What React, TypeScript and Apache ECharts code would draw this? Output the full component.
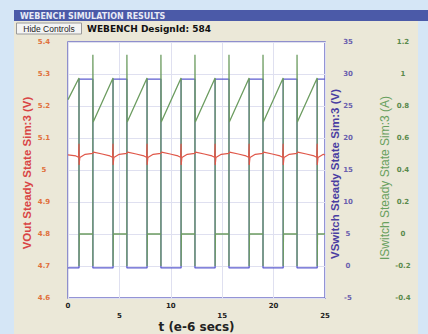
import React, { useEffect, useRef } from "react";
import * as echarts from "echarts";

// Values
const riseTimes = [1.07, 4.38, 7.69, 11.0, 14.31, 17.62, 20.93, 24.24]; // VSwitch rising edges (µs)
const fallTimes = [2.42, 5.73, 9.04, 12.35, 15.66, 18.97, 22.28]; // VSwitch falling edges (µs)
const tEnd = 25;

const vswHigh = 29.2;
const vswLow = -0.3;

const iswStart = 0.84;
const iswPeak = 0.975;
const iswValley = 0.7;
const iswSpike = 1.12;
const iswDip = -0.2;
const iswOff = 0;

const voutStart = 5.047;
const voutLate = 5.044;
const voutPreSpike = 5.04;
const voutSpikeHi = 5.082;
const voutSpikeLo = 5.016;
const voutAfter = 5.039;
const voutRise = 5.049;
const voutAtFall = 5.052;
const voutBump = 5.056;
const voutSettle = 5.05;
const voutEnd = 5.046;

const xTicks = [0, 5, 10, 15, 20, 25];

function buildVsw(): number[][] {
  const d: number[][] = [[0, vswLow]];
  let last = vswLow;
  riseTimes.forEach((r, i) => {
    d.push([r, vswLow], [r, vswHigh]);
    last = vswHigh;
    const f = fallTimes[i];
    if (f !== undefined) {
      d.push([f, vswHigh], [f, vswLow]);
      last = vswLow;
    }
  });
  d.push([tEnd, last]);
  return d;
}

function buildIsw(): number[][] {
  const d: number[][] = [[0, iswStart]];
  riseTimes.forEach((r, i) => {
    d.push([r, iswPeak], [r, iswDip], [r + 0.03, iswOff]);
    const f = fallTimes[i];
    if (f !== undefined) {
      d.push([f, iswOff], [f, iswDip], [f, iswSpike], [f + 0.03, iswValley]);
    }
  });
  d.push([tEnd, iswOff]);
  return d;
}

function buildVout(): number[][] {
  const d: number[][] = [[0, voutStart]];
  riseTimes.forEach((r, i) => {
    d.push(
      [r - 0.3, voutLate],
      [r - 0.05, voutPreSpike],
      [r, voutSpikeHi],
      [r + 0.01, voutSpikeLo],
      [r + 0.08, voutAfter],
      [r + 0.6, voutRise]
    );
    const f = fallTimes[i];
    if (f !== undefined) {
      d.push([f, voutAtFall], [f + 0.06, voutBump], [f + 0.9, voutSettle]);
    }
  });
  d.push([tEnd, voutEnd]);
  return d;
}

const RED = "#e0584a";
const BLUE = "#5c5cd0";
const GREEN = "#6c9c60";

export default function App() {
  const ref = useRef<HTMLDivElement>(null);
  useEffect(() => {
    document.body.style.margin = "0";
    if (!ref.current) return;
    const chart = echarts.init(ref.current, undefined, { renderer: "svg" });
    const labelFont = { fontFamily: "DejaVu Sans", fontSize: 7, fontWeight: "bold" as const };
    chart.setOption({
      animation: false,
      backgroundColor: "#d5e6f6",
      graphic: [
        { type: "rect", z: -10, shape: { x: 14, y: 20, width: 404, height: 314 }, style: { fill: "#ebe8d8" } },
        { type: "rect", z: -9, shape: { x: 14, y: 10, width: 414, height: 11 }, style: { fill: "#4b5aa8" } },
        {
          type: "text", x: 20, y: 16,
          style: { text: "WEBENCH SIMULATION RESULTS", fill: "#e8eaf6", fontFamily: "DejaVu Sans", fontWeight: "bold", fontSize: 8, verticalAlign: "middle" },
        },
        { type: "rect", shape: { x: 16.5, y: 23, width: 65, height: 11 }, style: { fill: "#f4f4f4", stroke: "#9a9a9a", lineWidth: 1 } },
        {
          type: "text", x: 49, y: 28.5,
          style: { text: "Hide Controls", fill: "#222", fontFamily: "Liberation Sans", fontSize: 8.5, align: "center", verticalAlign: "middle" },
        },
        {
          type: "text", x: 87, y: 29,
          style: { text: "WEBENCH DesignId: 584", fill: "#111", fontFamily: "DejaVu Sans", fontWeight: "bold", fontSize: 9, verticalAlign: "middle" },
        },
        {
          type: "text", x: 27, y: 173, rotation: Math.PI / 2,
          style: { text: "VOut Steady State Sim:3 (V)", fill: "#d94545", fontFamily: "Liberation Sans", fontWeight: "bold", fontSize: 11.5, align: "center", verticalAlign: "middle" },
        },
        {
          type: "text", x: 335, y: 174, rotation: Math.PI / 2,
          style: { text: "VSwitch Steady State Sim:3 (V)", fill: "#4a3ea2", fontFamily: "Liberation Sans", fontWeight: "bold", fontSize: 11.5, align: "center", verticalAlign: "middle" },
        },
        {
          type: "text", x: 385, y: 178, rotation: Math.PI / 2,
          style: { text: "ISwitch Steady State Sim:3 (A)", fill: "#68a05e", fontFamily: "Liberation Sans", fontSize: 12, align: "center", verticalAlign: "middle" },
        },
      ],
      grid: {
        left: 68, top: 42, width: 257, height: 256,
        outerBoundsMode: "none", containLabel: false,
        show: true, backgroundColor: "#ffffff", borderColor: "#7272c8", borderWidth: 1.5,
      },
      xAxis: {
        type: "value", min: 0, max: 25, interval: 5,
        name: "t (e-6 secs)", nameLocation: "middle", nameGap: 23, nameMoveOverlap: false,
        nameTextStyle: { fontFamily: "DejaVu Sans", fontSize: 12, fontWeight: "bold", color: "#222" },
        axisLine: { show: false }, axisTick: { show: false },
        splitLine: { show: true, lineStyle: { color: "#dfe0f0", width: 1 } },
        axisLabel: {
          ...labelFont, color: "#222", margin: 3, lineHeight: 10,
          formatter: (v: number) => (xTicks.indexOf(v) % 2 === 1 ? "\n" + v : String(v)),
        },
      },
      yAxis: [
        {
          type: "value", min: 4.6, max: 5.4, interval: 0.1, position: "left",
          axisLine: { show: false }, axisTick: { show: false },
          splitLine: { show: true, lineStyle: { color: "#dfe0f0", width: 1 } },
          axisLabel: { ...labelFont, color: "#e0703c", margin: 24, align: "center" },
        },
        {
          type: "value", min: -5, max: 35, interval: 5, position: "right", offset: 0,
          axisLine: { show: false }, axisTick: { show: false }, splitLine: { show: false },
          axisLabel: { ...labelFont, color: "#6a5fae", margin: 23, align: "center" },
        },
        {
          type: "value", min: -0.4, max: 1.2, interval: 0.2, position: "right", offset: 55,
          axisLine: { show: false }, axisTick: { show: false }, splitLine: { show: false },
          axisLabel: { ...labelFont, color: "#5a8a4c", margin: 23, align: "center" },
        },
      ],
      series: [
        {
          name: "VSwitch", type: "line", yAxisIndex: 1, data: buildVsw(), showSymbol: false,
          lineStyle: { color: BLUE, width: 1.3 }, itemStyle: { color: BLUE },
        },
        {
          name: "ISwitch", type: "line", yAxisIndex: 2, data: buildIsw(), showSymbol: false,
          lineStyle: { color: GREEN, width: 1.3 }, itemStyle: { color: GREEN },
        },
        {
          name: "VOut", type: "line", yAxisIndex: 0, data: buildVout(), showSymbol: false,
          lineStyle: { color: RED, width: 1.2 }, itemStyle: { color: RED },
        },
      ],
    });
    return () => chart.dispose();
  }, []);
  return <div ref={ref} style={{ width: 428, height: 334 }} />;
}
